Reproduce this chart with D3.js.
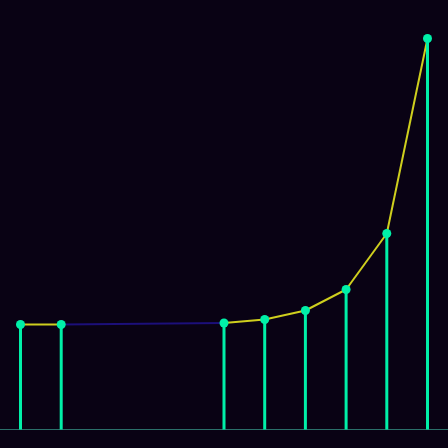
<!DOCTYPE html>
<html><head><meta charset="utf-8">
<script src="https://cdn.jsdelivr.net/npm/d3@7"></script>
<style>html,body{margin:0;padding:0;background:#090214;}svg{display:block}</style>
</head><body>
<script>
const categories = [0,1,2,3,4,5,6,7,8,9,10];
const values = [105,105,null,null,null,106.5,110,119,140,196,391];

const W = 448, H = 448;
const svg = d3.select("body").append("svg").attr("width", W).attr("height", H);
svg.append("rect").attr("width", W).attr("height", H).attr("fill", "#090214");

const x = d3.scaleLinear().domain([0, 10]).range([20.5, 427.5]);
const y = d3.scaleLinear().domain([0, 391]).range([429.5, 38.5]);

const data = categories.map((c, i) => ({c, v: values[i]}));
const defined = data.filter(d => d.v != null);

// gap bridging line (dark blue)
for (let i = 1; i < defined.length; i++) {
  const a = defined[i-1], b = defined[i];
  const gap = b.c - a.c > 1;
  svg.append("line")
    .attr("x1", x(a.c)).attr("y1", y(a.v))
    .attr("x2", x(b.c)).attr("y2", y(b.v))
    .attr("stroke", gap ? "#1c0f7a" : "#cfcf1e")
    .attr("stroke-width", 2);
}

// baseline
svg.append("line").attr("x1", 0).attr("x2", W)
  .attr("y1", y(0)).attr("y2", y(0))
  .attr("stroke", "#2b6f6a").attr("stroke-width", 1);

// stems
svg.selectAll(".stem").data(defined).enter().append("line")
  .attr("x1", d => x(d.c)).attr("x2", d => x(d.c))
  .attr("y1", y(0)).attr("y2", d => y(d.v))
  .attr("stroke", "#00f0a8").attr("stroke-width", 3);

// dots
svg.selectAll(".dot").data(defined).enter().append("circle")
  .attr("cx", d => x(d.c)).attr("cy", d => y(d.v)).attr("r", 4.5)
  .attr("fill", "#00f0a8");
</script>
</body></html>
